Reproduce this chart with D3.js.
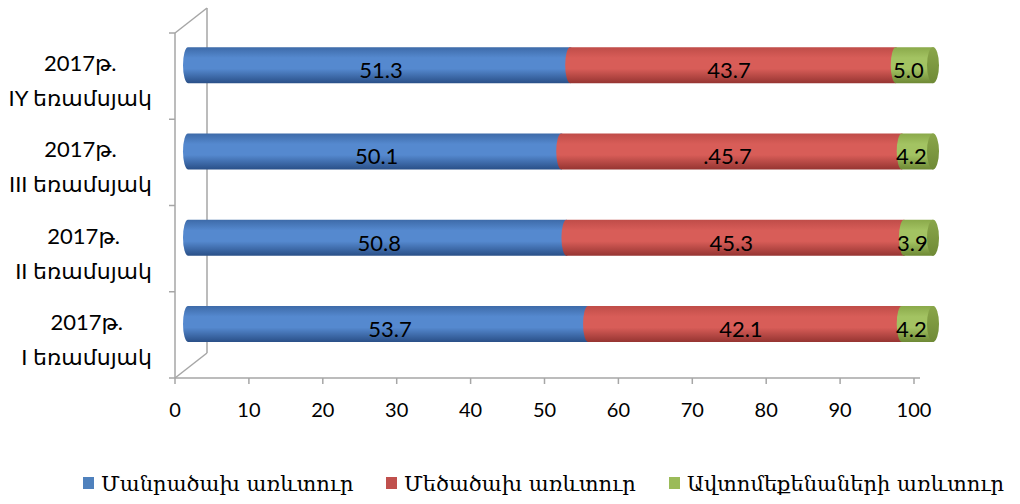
<!DOCTYPE html>
<html>
<head>
<meta charset="utf-8">
<script src="https://cdn.jsdelivr.net/npm/d3@7"></script>
<style>
  body { margin: 0; background: #fff; }
  text { fill: #000; }
</style>
</head>
<body>
<div id="chart"></div>
<script>
const width = 1020;
const height = 504;

// data
const quarters = ["I եռամսյակ", "II եռամսյակ", "III եռամսյակ", "IY եռամսյակ"];
const yearLabel = "2017թ.";
const retail = [53.7, 50.8, 50.1, 51.3];
const wholesale = [42.1, 45.3, 45.7, 43.7];
const wholesaleText = ["42.1", "45.3", ".45.7", "43.7"];   // as printed on the chart
const auto = [4.2, 3.9, 4.2, 5.0];
const seriesNames = ["Մանրածախ առևտուր", "Մեծածախ առևտուր", "Ավտոմեքենաների առևտուր"];
const xTicks = [0, 10, 20, 30, 40, 50, 60, 70, 80, 90, 100];

const colors = [
    { top: "#3d6aa8", mid: "#5589cf", bot: "#2a5088", flat: "#4f81bd" },
    { top: "#bf4c48", mid: "#d85d58", bot: "#963532", flat: "#c0504d" },
    { top: "#8aa94a", mid: "#a3c362", bot: "#6e8935", flat: "#9bbb59" }
];

const svg = d3.select("#chart")
    .append("svg")
    .attr("width", width)
    .attr("height", height);

const x = d3.scaleLinear().domain([0, 100]).range([175, 914]);
const y = d3.scaleBand().domain(quarters).range([378, 33]);

// 3d offsets: back wall and bar depth
const back = { dx: 32, dy: -25 };
const depthDy = -11;
const xb = d3.scaleLinear().domain([0, 100]).range([188, 933]);

const barH = 36;
const rx = 5;

// gradients
const defs = svg.append("defs");
colors.forEach((c, i) => {
    const g = defs.append("linearGradient")
        .attr("id", "grad" + i)
        .attr("x1", 0).attr("y1", 0).attr("x2", 0).attr("y2", 1);
    g.append("stop").attr("offset", "0%").attr("stop-color", c.top);
    g.append("stop").attr("offset", "30%").attr("stop-color", c.mid);
    g.append("stop").attr("offset", "60%").attr("stop-color", c.mid);
    g.append("stop").attr("offset", "100%").attr("stop-color", c.bot);
});
const capGrad = defs.append("linearGradient")
    .attr("id", "capgrad")
    .attr("x1", 0).attr("y1", 0).attr("x2", 0).attr("y2", 1);
capGrad.append("stop").attr("offset", "0%").attr("stop-color", "#8aa64a");
capGrad.append("stop").attr("offset", "100%").attr("stop-color", "#6f8a36");

// walls
const wallColor = "#a6a6a6";
const walls = svg.append("g")
    .attr("stroke", wallColor)
    .attr("stroke-width", 1.5)
    .attr("fill", "none");

walls.append("line")
    .attr("x1", x(0)).attr("y1", y.range()[1])
    .attr("x2", x(0)).attr("y2", y.range()[0]);
walls.append("line")
    .attr("x1", x(0) + back.dx).attr("y1", y.range()[1] + back.dy)
    .attr("x2", x(0) + back.dx).attr("y2", y.range()[0] + back.dy);
walls.append("line")
    .attr("x1", x(0)).attr("y1", y.range()[1])
    .attr("x2", x(0) + back.dx).attr("y2", y.range()[1] + back.dy);
walls.append("line")
    .attr("x1", x(0)).attr("y1", y.range()[0])
    .attr("x2", x(0) + back.dx).attr("y2", y.range()[0] + back.dy);
walls.append("line")
    .attr("x1", x(0)).attr("y1", y.range()[0])
    .attr("x2", x(100) + 6).attr("y2", y.range()[0]);

// left ticks at band boundaries
const bounds = quarters.map(q => y(q)).concat([y.range()[0]]);
walls.selectAll(".ytick")
    .data(bounds)
    .enter()
    .append("line")
    .attr("x1", x(0) - 6).attr("x2", x(0))
    .attr("y1", d => d).attr("y2", d => d);

// bottom ticks
walls.selectAll(".xtick")
    .data(xTicks)
    .enter()
    .append("line")
    .attr("x1", d => x(d)).attr("x2", d => x(d))
    .attr("y1", y.range()[0]).attr("y2", y.range()[0] + 6);

svg.selectAll(".xlabel")
    .data(xTicks)
    .enter()
    .append("text")
    .attr("x", d => x(d))
    .attr("y", y.range()[0] + 39)
    .attr("text-anchor", "middle")
    .style("font-family", "Lato, 'Open Sans', sans-serif")
    .style("font-size", "20px")
    .text(d => d);

// category labels: two centred lines, block right-aligned at x=152
const catG = svg.selectAll(".cat")
    .data(quarters)
    .enter()
    .append("g")
    .attr("transform", d => `translate(0, ${y(d) + y.bandwidth() / 2})`);
catG.each(function(q) {
    const g = d3.select(this);
    const t1 = g.append("text")
        .attr("y", -5)
        .attr("text-anchor", "middle")
        .style("font-family", "Lato, 'DejaVu Sans', sans-serif")
        .style("font-size", "22px")
        .text(yearLabel);
    const t2 = g.append("text")
        .attr("y", 30)
        .attr("text-anchor", "middle")
        .style("font-family", "Lato, 'DejaVu Sans', sans-serif")
        .style("font-size", "22px")
        .text(q);
    const w = Math.max(t1.node().getComputedTextLength(), t2.node().getComputedTextLength());
    t1.attr("x", 152 - w / 2);
    t2.attr("x", 152 - w / 2);
});

// cylinders
const rows = quarters.map((q, i) => {
    const vals = [retail[i], wholesale[i], auto[i]];
    const texts = [retail[i].toFixed(1), wholesaleText[i], auto[i].toFixed(1)];
    let start = 0;
    const segs = vals.map((v, k) => {
        const s = { k, a: start, b: start + v, text: texts[k] };
        start += v;
        return s;
    });
    return { q, segs };
});

function segPath(a, b, cy) {
    const t = cy - barH / 2, bt = cy + barH / 2, ry = barH / 2;
    return `M${a},${t} L${b},${t} A${rx},${ry} 0 0 1 ${b},${bt} L${a},${bt} A${rx},${ry} 0 0 1 ${a},${t} Z`;
}

const labelShift = [2, -4, -6];

const bars = svg.selectAll(".bar")
    .data(rows)
    .enter()
    .append("g")
    .attr("class", "bar");

bars.each(function(row) {
    const g = d3.select(this);
    const cy = y(row.q) + y.bandwidth() / 2 + depthDy;
    g.selectAll("path.seg")
        .data(row.segs)
        .enter()
        .append("path")
        .attr("class", "seg")
        .attr("d", d => segPath(xb(d.a), xb(d.b), cy))
        .attr("fill", d => `url(#grad${d.k})`);
    g.append("ellipse")
        .attr("cx", xb(100))
        .attr("cy", cy)
        .attr("rx", rx + 1)
        .attr("ry", barH / 2)
        .attr("fill", "url(#capgrad)");
    g.selectAll("text")
        .data(row.segs)
        .enter()
        .append("text")
        .attr("x", d => (xb(d.a) + xb(d.b)) / 2 + labelShift[d.k])
        .attr("y", cy + 13)
        .attr("text-anchor", "middle")
        .style("font-family", "Lato, 'Open Sans', sans-serif")
        .style("font-size", "22px")
        .text(d => d.text);
});

// legend
const legendX = [83, 386, 669];
const legend = svg.selectAll(".legend")
    .data(seriesNames)
    .enter()
    .append("g")
    .attr("transform", (d, i) => `translate(${legendX[i]}, 484)`);
legend.append("rect")
    .attr("x", 0).attr("y", -7)
    .attr("width", 11).attr("height", 12)
    .attr("fill", (d, i) => colors[i].flat);
legend.append("text")
    .attr("x", 18)
    .attr("y", 7)
    .style("font-family", "'DejaVu Serif', serif")
    .style("font-size", "21px")
    .text(d => d);
</script>
</body>
</html>
